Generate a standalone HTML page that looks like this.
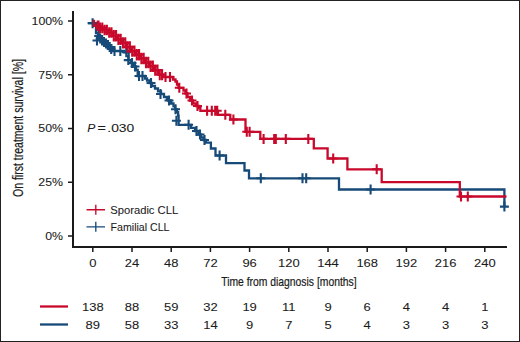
<!DOCTYPE html>
<html><head><meta charset="utf-8">
<style>
html,body{margin:0;padding:0;background:#fff;}
body{width:520px;height:342px;overflow:hidden;}
svg{display:block;}
text{font-family:"Liberation Sans",sans-serif;fill:#1a1a1a;stroke:#1a1a1a;stroke-width:0.07px;}
.ttl{stroke:#1a1a1a;stroke-width:0.22px;}
</style></head>
<body>
<svg width="520" height="342" viewBox="0 0 520 342">
<rect x="0.5" y="0.5" width="519" height="341" fill="#fff" stroke="#222" stroke-width="1"/>
<!-- axes -->
<g stroke="#1a1a1a" fill="none">
<path d="M73 11 V247 H507" stroke-width="2"/>
<path d="M68 21 H73 M68 74.75 H73 M68 128.5 H73 M68 182.25 H73 M68 236 H73" stroke-width="1.5"/>
<path d="M92.8 247 v5 M132 247 v5 M171.2 247 v5 M210.4 247 v5 M249.6 247 v5 M288.8 247 v5 M328 247 v5 M367.2 247 v5 M406.4 247 v5 M445.6 247 v5 M484.8 247 v5" stroke-width="1.5"/>
</g>
<g font-size="11" text-anchor="end"><text transform="translate(63,24.9) scale(1.12,1)">100%</text><text transform="translate(63,78.6) scale(1.12,1)">75%</text><text transform="translate(63,132.4) scale(1.12,1)">50%</text><text transform="translate(63,186.1) scale(1.12,1)">25%</text><text transform="translate(63,239.9) scale(1.12,1)">0%</text></g>
<g font-size="11" text-anchor="middle"><text transform="translate(92.8,267) scale(1.18,1)">0</text><text transform="translate(132,267) scale(1.18,1)">24</text><text transform="translate(171.2,267) scale(1.18,1)">48</text><text transform="translate(210.4,267) scale(1.18,1)">72</text><text transform="translate(249.6,267) scale(1.18,1)">96</text><text transform="translate(288.8,267) scale(1.18,1)">120</text><text transform="translate(328,267) scale(1.18,1)">144</text><text transform="translate(367.2,267) scale(1.18,1)">168</text><text transform="translate(406.4,267) scale(1.18,1)">192</text><text transform="translate(445.6,267) scale(1.18,1)">216</text><text transform="translate(484.8,267) scale(1.18,1)">240</text></g>
<text class="ttl" font-size="13.6" transform="translate(221.2,286.4) scale(0.762,1)">Time from diagnosis [months]</text>
<text class="ttl" font-size="14.5" transform="translate(23,197) rotate(-90) scale(0.726,1)">On first treatment survival [%]</text>
<g font-size="11"><text transform="translate(87.2,132) scale(1.1,1)" font-style="italic">P</text><text transform="translate(97.4,132) scale(1.3,1)">=</text><text transform="translate(107.3,132) scale(1.26,1)">.030</text></g>
<!-- curves -->
<g fill="none" stroke-linejoin="miter" stroke-linecap="butt">
<path d="M87.6 23.2 H96 V33 H98 V36 H99.5 V38.5 H101 V40.5 H103 V42 H105 V43.5 H107 V45 H109 V47 H110.5 V49 H112 V51 H124.5 V52.3 H128.6 V60.1 H131 V63 H133.5 V66.5 H136 V70 H137.7 V76 H145 V78.5 H147 V80.5 H149.5 V83 H152 V86 H155 V88.5 H158 V91.3 H161 V94 H164 V97 H167 V99 H168.2 V100.5 H171.1 V103.5 H173.5 V106.4 H175.2 V109.3 H177 V112.2 H178.1 V115.7 H178.6 V124.8 H191 V127.8 H195 V131 H198.5 V134.5 H201 V137.5 H203.5 V140 H206 V142.6 H210.9 V148.5 H215.5 V155.5 H226 V163.1 H244.5 V170.5 H249 V178.3 H339 V189.5 H504.4 V206.6 H504.4" stroke="#164a78" stroke-width="2.3"/>
<path d="M88.1 23.2 h9.0 M92.6 18.2 v10 M92.5 40.5 h9.0 M97 35.5 v10 M94.2 36 h9.0 M98.7 31 v10 M95.7 38.5 h9.0 M100.2 33.5 v10 M97.5 40.5 h9.0 M102 35.5 v10 M99.5 42 h9.0 M104 37 v10 M101.5 43.5 h9.0 M106 38.5 v10 M103.5 45 h9.0 M108 40 v10 M105.2 47 h9.0 M109.7 42 v10 M106.7 49 h9.0 M111.2 44 v10 M110.0 51 h9.0 M114.5 46 v10 M115.8 51 h9.0 M120.3 46 v10 M121.8 52.3 h9.0 M126.3 47.3 v10 M123.80000000000001 60.1 h9.0 M128.3 55.1 v10 M127.5 63 h9.0 M132 58 v10 M130.5 66.5 h9.0 M135 61.5 v10 M134.5 76 h9.0 M139 71 v10 M138.0 76 h9.0 M142.5 71 v10 M146.5 83 h9.0 M151 78 v10 M156.0 94 h9.0 M160.5 89 v10 M164.5 100.5 h9.0 M169 95.5 v10 M171.0 109.3 h9.0 M175.5 104.3 v10 M171.9 120.7 h9.0 M176.4 115.7 v10 M184.1 124.8 h9.0 M188.6 119.8 v10 M192.0 131 h9.0 M196.5 126 v10 M195.5 134.5 h9.0 M200 129.5 v10 M200.0 140 h9.0 M204.5 135 v10 M215.1 155.5 h9.0 M219.6 150.5 v10 M256.3 178.3 h9.0 M260.8 173.3 v10 M298.0 178.3 h9.0 M302.5 173.3 v10 M301.7 178.3 h9.0 M306.2 173.3 v10 M366.1 189.5 h9.0 M370.6 184.5 v10 M499.9 206.6 h9.0 M504.4 201.6 v10" stroke="#164a78" stroke-width="2.1"/>
<path d="M92.8 21 H94.0 V25.73 H98.6 V27.92 H103.2 V30.05 H107.8 V32.57 H112.4 V35.8 H117.0 V39.42 H121.6 V42.87 H126.2 V47.03 H130.8 V51.09 H135.4 V54.74 H140.0 V58.45 H144.6 V62.49 H149.2 V66.22 H153.8 V70.08 H158.4 V74.58 H163 V77 H173 V79.5 H175.5 V81.5 H177 V84.5 H178.5 V87.8 H183.5 V90.5 H185.5 V93.5 H187.5 V97 H190 V100.5 H193 V103.5 H196 V106 H199 V108 H200.4 V110.8 H218 V114.8 H230.3 V119.5 H245.5 V131.8 H260.3 V138.9 H313.8 V148.3 H327.6 V158.5 H347.4 V169.3 H381.7 V182.2 H459.8 V196.5 H506.5" stroke="#c8092b" stroke-width="2.3"/>
<path d="M94.0 25.73 h9.0 M98.5 20.43 v10.6 M95.48 27.92 h9.0 M99.98 22.62 v10.6 M100.08 30.05 h9.0 M104.58 24.75 v10.6 M104.68 32.57 h9.0 M109.18 27.27 v10.6 M109.28 35.8 h9.0 M113.78 30.099999999999998 v11.4 M113.88 39.42 h9.0 M118.38 33.72 v11.4 M118.48 42.87 h9.0 M122.98 37.169999999999995 v11.4 M123.08 47.03 h9.0 M127.58 41.33 v11.4 M127.68 51.09 h9.0 M132.18 45.39 v11.4 M132.28 54.74 h9.0 M136.78 49.04 v11.4 M136.88 58.45 h9.0 M141.38 52.75 v11.4 M141.48 62.49 h9.0 M145.98 56.79 v11.4 M146.08 66.22 h9.0 M150.58 60.519999999999996 v11.4 M150.68 70.08 h9.0 M155.18 64.38 v11.4 M155.28 74.58 h9.0 M159.78 68.88 v11.4 M93.18 25.73 h9.0 M97.68 20.43 v10.6 M97.78 27.92 h9.0 M102.28 22.62 v10.6 M102.38 30.05 h9.0 M106.88 24.75 v10.6 M106.98 32.57 h9.0 M111.48 27.27 v10.6 M111.58 35.8 h9.0 M116.08 30.099999999999998 v11.4 M116.18 39.42 h9.0 M120.68 33.72 v11.4 M120.78 42.87 h9.0 M125.28 37.169999999999995 v11.4 M125.38 47.03 h9.0 M129.88 41.33 v11.4 M129.98 51.09 h9.0 M134.48 45.39 v11.4 M134.58 54.74 h9.0 M139.08 49.04 v11.4 M139.18 58.45 h9.0 M143.68 52.75 v11.4 M143.78 62.49 h9.0 M148.28 56.79 v11.4 M148.38 66.22 h9.0 M152.88 60.519999999999996 v11.4 M152.98 70.08 h9.0 M157.48 64.38 v11.4 M157.58 74.58 h9.0 M162.08 68.88 v11.4 M161.0 77 h9.0 M165.5 72 v10 M165.5 77 h9.0 M170 72 v10 M174.8 87.8 h9.0 M179.3 82.8 v10 M182.0 93.5 h9.0 M186.5 88.5 v10 M187.5 100.5 h9.0 M192 95.5 v10 M193.0 106 h9.0 M197.5 101 v10 M202.6 110.8 h9.0 M207.1 105.8 v10 M207.3 110.8 h9.0 M211.8 105.8 v10 M210.7 110.8 h9.0 M215.2 105.8 v10 M212.7 110.8 h9.0 M217.2 105.8 v10 M220.8 114.8 h9.0 M225.3 109.8 v10 M228.9 119.5 h9.0 M233.4 114.5 v10 M242.3 131.8 h9.0 M246.8 126.80000000000001 v10 M245.1 131.8 h9.0 M249.6 126.80000000000001 v10 M259.1 138.9 h9.0 M263.6 133.9 v10 M269.7 138.9 h9.0 M274.2 133.9 v10 M271.3 138.9 h9.0 M275.8 133.9 v10 M281.3 138.9 h9.0 M285.8 133.9 v10 M303.8 138.9 h9.0 M308.3 133.9 v10 M328.7 158.5 h9.0 M333.2 153.5 v10 M372.2 169.3 h9.0 M376.7 164.3 v10 M456.5 196.5 h9.0 M461 191.5 v10 M463.3 196.5 h9.0 M467.8 191.5 v10" stroke="#c8092b" stroke-width="2.1"/>
</g>
<!-- /curves -->
<!-- legend -->
<g stroke-width="1.35" fill="none">
<path d="M86.5 209.7 H105 M95.8 204.7 V214.7" stroke="#c8092b"/>
<path d="M86.5 226.8 H105 M95.8 221.8 V231.8" stroke="#164a78"/>
</g>
<text transform="translate(110.2,213.6) scale(1.02,1)" font-size="11">Sporadic CLL</text>
<text transform="translate(110.6,230.8) scale(0.965,1)" font-size="11">Familial CLL</text>
<!-- risk table -->
<path d="M40 306.5 H68" stroke="#c8092b" stroke-width="2.3"/>
<path d="M40 324.5 H68" stroke="#164a78" stroke-width="2.3"/>
<g font-size="11" text-anchor="middle">
<text transform="translate(92.8,310.8) scale(1.18,1)">138</text><text transform="translate(132,310.8) scale(1.18,1)">88</text><text transform="translate(171.2,310.8) scale(1.18,1)">59</text><text transform="translate(210.4,310.8) scale(1.18,1)">32</text><text transform="translate(249.6,310.8) scale(1.18,1)">19</text><text transform="translate(288.8,310.8) scale(1.18,1)">11</text><text transform="translate(328,310.8) scale(1.18,1)">9</text><text transform="translate(367.2,310.8) scale(1.18,1)">6</text><text transform="translate(406.4,310.8) scale(1.18,1)">4</text><text transform="translate(445.6,310.8) scale(1.18,1)">4</text><text transform="translate(484.8,310.8) scale(1.18,1)">1</text>
<text transform="translate(92.8,328.8) scale(1.18,1)">89</text><text transform="translate(132,328.8) scale(1.18,1)">58</text><text transform="translate(171.2,328.8) scale(1.18,1)">33</text><text transform="translate(210.4,328.8) scale(1.18,1)">14</text><text transform="translate(249.6,328.8) scale(1.18,1)">9</text><text transform="translate(288.8,328.8) scale(1.18,1)">7</text><text transform="translate(328,328.8) scale(1.18,1)">5</text><text transform="translate(367.2,328.8) scale(1.18,1)">4</text><text transform="translate(406.4,328.8) scale(1.18,1)">3</text><text transform="translate(445.6,328.8) scale(1.18,1)">3</text><text transform="translate(484.8,328.8) scale(1.18,1)">3</text>
</g>
</svg>
</body></html>
